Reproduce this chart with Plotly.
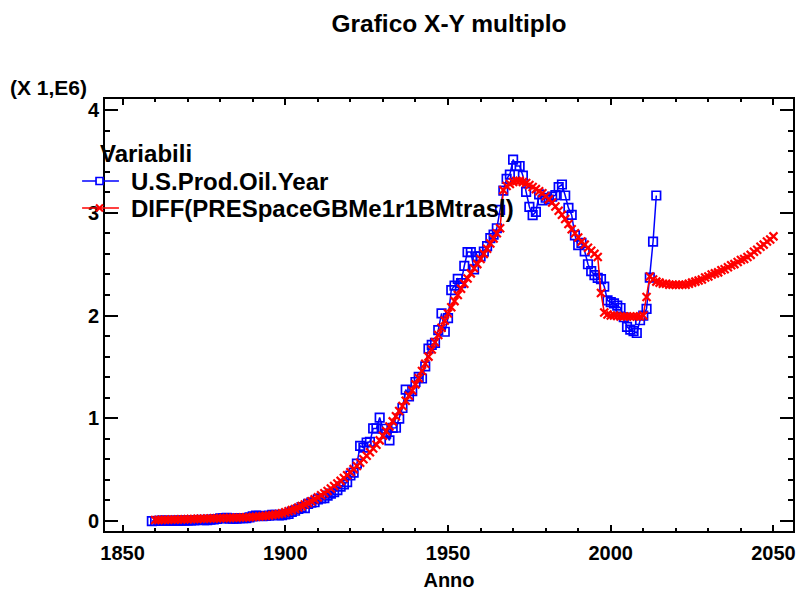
import plotly.graph_objects as go

# ---------------- data ----------------
prod_years = list(range(1859, 2015))
us_prod_oil = [
    0.000002, 0.0005, 0.002, 0.003, 0.003, 0.002, 0.002, 0.004, 0.003, 0.004, 0.004,
    0.005, 0.005, 0.006, 0.010, 0.011, 0.009, 0.009, 0.013, 0.015, 0.020,
    0.026, 0.028, 0.030, 0.023, 0.024, 0.022, 0.028, 0.028, 0.028, 0.035,
    0.046, 0.054, 0.051, 0.048, 0.049, 0.053, 0.061, 0.060, 0.055, 0.057,
    0.064, 0.069, 0.089, 0.100, 0.117, 0.135, 0.126, 0.166, 0.179, 0.183,
    0.210, 0.220, 0.223, 0.248, 0.266, 0.281, 0.301, 0.335, 0.356, 0.378,
    0.443, 0.472, 0.558, 0.732, 0.714, 0.764, 0.771, 0.901, 0.901, 1.007,
    0.898, 0.851, 0.785, 0.906, 0.908, 0.997, 1.100, 1.279, 1.214, 1.265,
    1.353, 1.402, 1.387, 1.506, 1.678, 1.714, 1.734, 1.857, 2.020, 1.842,
    1.974, 2.248, 2.290, 2.357, 2.315, 2.484, 2.617, 2.617, 2.449, 2.575,
    2.575, 2.622, 2.676, 2.753, 2.787, 2.849, 3.028, 3.216, 3.329, 3.372,
    3.517, 3.454, 3.455, 3.361, 3.203, 3.057, 2.976, 3.009, 3.178, 3.121,
    3.146, 3.129, 3.157, 3.171, 3.250, 3.275, 3.168, 3.047, 2.979, 2.779,
    2.685, 2.707, 2.625, 2.499, 2.431, 2.394, 2.366, 2.355, 2.282, 2.147,
    2.131, 2.118, 2.097, 2.073, 1.983, 1.890, 1.862, 1.848, 1.830, 1.954,
    1.999, 2.065, 2.369, 2.720, 3.168,
]

model_years = list(range(1860, 2051))
diff_model = [
    0.010, 0.011, 0.012, 0.012, 0.013, 0.014, 0.015, 0.015, 0.016, 0.017,
    0.018, 0.019, 0.020, 0.021, 0.022, 0.023, 0.024, 0.025, 0.026, 0.027,
    0.028, 0.029, 0.030, 0.031, 0.032, 0.033, 0.034, 0.035, 0.036, 0.037,
    0.040, 0.042, 0.044, 0.047, 0.050, 0.054, 0.058, 0.063, 0.069, 0.076,
    0.085, 0.095, 0.106, 0.118, 0.131, 0.145, 0.160, 0.176, 0.193, 0.211,
    0.230, 0.250, 0.271, 0.293, 0.316, 0.340, 0.365, 0.391, 0.418, 0.446,
    0.475, 0.505, 0.536, 0.568, 0.601, 0.635, 0.670, 0.706, 0.743, 0.785,
    0.830, 0.875, 0.920, 0.970, 1.020, 1.070, 1.120, 1.170, 1.220, 1.270,
    1.330, 1.390, 1.460, 1.530, 1.600, 1.670, 1.740, 1.810, 1.880, 1.950,
    2.020, 2.080, 2.140, 2.200, 2.260, 2.310, 2.360, 2.410, 2.460, 2.500,
    2.550, 2.600, 2.650, 2.700, 2.750, 2.800, 2.850, 3.220, 3.260, 3.280,
    3.300, 3.310, 3.310, 3.300, 3.290, 3.270, 3.250, 3.230, 3.210, 3.190,
    3.160, 3.130, 3.100, 3.060, 3.020, 2.980, 2.940, 2.890, 2.840, 2.800,
    2.760, 2.720, 2.690, 2.660, 2.630, 2.600, 2.570, 2.220, 2.030, 2.010,
    2.000, 2.000, 1.995, 1.990, 1.990, 1.990, 1.990, 1.990, 1.990, 1.990,
    2.000, 2.180, 2.380, 2.350, 2.330, 2.320, 2.310, 2.310, 2.300, 2.300,
    2.300, 2.300, 2.300, 2.300, 2.310, 2.320, 2.330, 2.340, 2.350, 2.370,
    2.380, 2.400, 2.410, 2.420, 2.440, 2.450, 2.470, 2.490, 2.500, 2.520,
    2.540, 2.550, 2.570, 2.590, 2.620, 2.640, 2.670, 2.690, 2.720, 2.740,
    2.770,
]

series_names = ["U.S.Prod.Oil.Year", "DIFF(PRESpaceGBMe1r1BMtrasl)"]
series_colors = ["#0000FF", "#FF0000"]
legend_title = "Variabili"
x_tick_vals = [1850, 1900, 1950, 2000, 2050]
y_tick_vals = [0, 1, 2, 3, 4]

FONT = "Arial, Liberation Sans, Helvetica, sans-serif"

# plot-area geometry (pixels) used only to place the legend block
L, R, T, B = 105, 796, 99, 531
def px(x):
    return (x - L) / (R - L)
def py(y):
    return (B - y) / (B - T)

fig = go.Figure()
fig.add_trace(go.Scatter(
    x=prod_years, y=us_prod_oil, name=series_names[0], mode="lines+markers",
    line=dict(color=series_colors[0], width=1.5),
    marker=dict(symbol="square-open", size=8.5, color=series_colors[0], line=dict(width=1.7)),
))
fig.add_trace(go.Scatter(
    x=model_years, y=diff_model, name=series_names[1], mode="lines+markers",
    line=dict(color=series_colors[1], width=1.5),
    marker=dict(symbol="x-thin", size=8, color=series_colors[1], line=dict(width=2.2, color=series_colors[1])),
))

# legend block (drawn as text + key symbols at the reference position)
annotations = [
    dict(text="<b>(X 1,E6)</b>", xref="paper", yref="paper",
         x=px(8), xanchor="left", y=py(88), yanchor="middle",
         showarrow=False, font=dict(size=21, family=FONT, color="black")),
    dict(text="<b>" + legend_title + "</b>", xref="paper", yref="paper",
         x=px(98), xanchor="left", y=py(153), yanchor="middle",
         showarrow=False, font=dict(size=24, family=FONT, color="black")),
]
shapes = []
legend_rows = [181, 208]
for name, color, yrow, kind in zip(series_names, series_colors, legend_rows, ["square", "x"]):
    annotations.append(dict(
        text="<b>" + name + "</b>", xref="paper", yref="paper",
        x=px(129), xanchor="left", y=py(yrow), yanchor="middle",
        showarrow=False, font=dict(size=24, family=FONT, color="black")))
    shapes.append(dict(type="line", xref="paper", yref="paper",
                       x0=px(82), x1=px(119), y0=py(yrow), y1=py(yrow),
                       line=dict(color=color, width=1.5)))
    if kind == "square":
        shapes.append(dict(type="rect", xref="paper", yref="paper",
                           x0=px(96), x1=px(103), y0=py(yrow - 3.5), y1=py(yrow + 3.5),
                           line=dict(color=color, width=1.7), fillcolor="white"))
    else:
        shapes.append(dict(type="path", xref="paper", yref="paper",
                           path=f"M {px(96)},{py(yrow - 3.5)} L {px(103)},{py(yrow + 3.5)} "
                                f"M {px(96)},{py(yrow + 3.5)} L {px(103)},{py(yrow - 3.5)}",
                           line=dict(color=color, width=2.2)))

fig.update_layout(
    width=802, height=595,
    margin=dict(l=L, r=802 - R, t=T, b=595 - B),
    paper_bgcolor="white", plot_bgcolor="white",
    font=dict(family=FONT, color="black"),
    title=dict(text="<b>Grafico X-Y multiplo</b>", x=0.5, xref="paper", xanchor="center",
               y=1 - 23 / 595, yref="container", yanchor="middle",
               font=dict(size=24.5, family=FONT, color="black")),
    showlegend=False,
    annotations=annotations,
    shapes=shapes,
)

fig.update_xaxes(
    range=[1844.6, 2056], tickmode="array", tickvals=x_tick_vals,
    ticks="inside", ticklen=6, tickwidth=2, tickcolor="black",
    showline=True, linewidth=2, linecolor="black", mirror="ticks",
    showgrid=False, zeroline=False, ticklabelstandoff=3,
    minor=dict(dtick=10, tick0=1850, ticks="inside", ticklen=3, tickwidth=1.5, tickcolor="black", showgrid=False),
    tickfont=dict(size=20, family=FONT, color="black", weight="bold"),
    title=dict(text="<b>Anno</b>", font=dict(size=20, family=FONT, color="black"), standoff=10),
)
fig.update_yaxes(
    range=[-0.097, 4.107], tickmode="array", tickvals=y_tick_vals,
    ticks="inside", ticklen=13, tickwidth=2, tickcolor="black",
    showline=True, linewidth=2, linecolor="black", mirror="ticks",
    showgrid=False, zeroline=False,
    minor=dict(dtick=0.2, tick0=0, ticks="inside", ticklen=5, tickwidth=1.5, tickcolor="black", showgrid=False),
    tickfont=dict(size=20, family=FONT, color="black", weight="bold"),
)

fig.write_html("out.html")
